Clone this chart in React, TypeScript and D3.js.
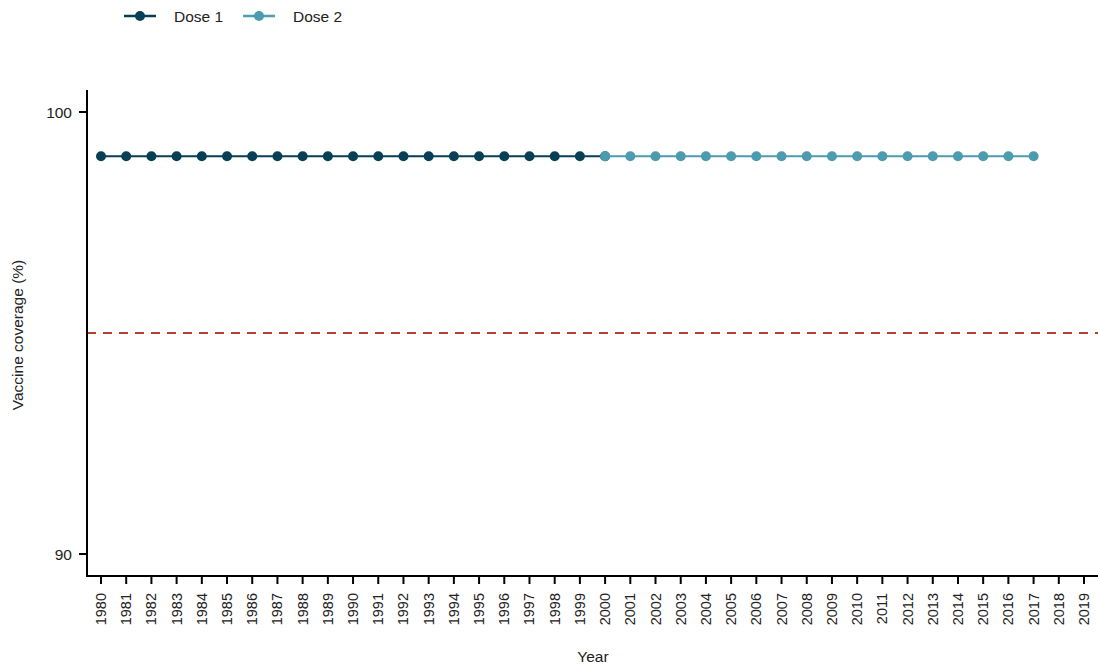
import React from "react";
import * as d3 from "d3";

const years: number[] = d3.range(1980, 2020);
const dose1Years: number[] = d3.range(1980, 2001);
const dose1Values: number[] = dose1Years.map(() => 99);
const dose2Years: number[] = d3.range(2000, 2018);
const dose2Values: number[] = dose2Years.map(() => 99);
const targetValue = 95;
const yTicks: number[] = [90, 100];
const seriesNames = ["Dose 1", "Dose 2"];
const colors = ["#073f54", "#4d9bae"];

export default function App() {
  const W = 1098, H = 669;
  const x = d3.scaleLinear().domain([1980, 2019]).range([101, 1084]);
  const y = d3.scaleLinear().domain([90, 100]).range([554, 112]);
  const line = d3.line<[number, number]>().x(d => x(d[0])).y(d => y(d[1]));
  const font = "Liberation Sans, Arial, sans-serif";
  const d1: [number, number][] = dose1Years.map((yr, i) => [yr, dose1Values[i]]);
  const d2: [number, number][] = dose2Years.map((yr, i) => [yr, dose2Values[i]]);
  const axisY = 576;
  const axisX = 87;
  return (
    <svg width={W} height={H} style={{ position: "absolute", left: 0, top: 0 }} fontFamily={font}>
      <rect width={W} height={H} fill="#fff" />
      {/* legend */}
      {seriesNames.map((n, i) => {
        const lx = i === 0 ? 124 : 243;
        return (
          <g key={n}>
            <line x1={lx} x2={lx + 32} y1={16} y2={16} stroke={colors[i]} strokeWidth={2.5} />
            <circle cx={lx + 16} cy={16} r={5} fill={colors[i]} />
            <text x={lx + 50} y={21.5} fontSize={15.5} fill="#222">{n}</text>
          </g>
        );
      })}
      {/* target line */}
      <line x1={axisX} x2={W} y1={y(targetValue)} y2={y(targetValue)} stroke="#b8402a" strokeWidth={2} strokeDasharray="9,7" />
      {/* series */}
      <path d={line(d1) || ""} fill="none" stroke={colors[0]} strokeWidth={2} />
      {d1.map(d => <circle key={"a" + d[0]} cx={x(d[0])} cy={y(d[1])} r={5} fill={colors[0]} />)}
      <path d={line(d2) || ""} fill="none" stroke={colors[1]} strokeWidth={2} />
      {d2.map(d => <circle key={"b" + d[0]} cx={x(d[0])} cy={y(d[1])} r={5} fill={colors[1]} />)}
      {/* y axis */}
      <line x1={axisX} x2={axisX} y1={90} y2={axisY + 1} stroke="#000" strokeWidth={2} />
      {yTicks.map(t => (
        <g key={t}>
          <line x1={axisX - 8} x2={axisX} y1={y(t)} y2={y(t)} stroke="#000" strokeWidth={2} />
          <text x={axisX - 15} y={y(t) + 5.5} textAnchor="end" fontSize={15.5} fill="#222">{t}</text>
        </g>
      ))}
      {/* x axis */}
      <line x1={axisX - 1} x2={W} y1={axisY} y2={axisY} stroke="#000" strokeWidth={2} />
      {years.map(yr => (
        <g key={yr}>
          <line x1={x(yr)} x2={x(yr)} y1={axisY} y2={axisY + 8} stroke="#000" strokeWidth={2} />
          <text transform={`translate(${x(yr) + 5},${axisY + 17}) rotate(-90)`} textAnchor="end" fontSize={14.5} fill="#222">{yr}</text>
        </g>
      ))}
      <text x={593} y={662} textAnchor="middle" fontSize={15.5} fill="#222">Year</text>
      <text transform={`translate(23,335) rotate(-90)`} textAnchor="middle" fontSize={15.5} fill="#222">Vaccine coverage (%)</text>
    </svg>
  );
}
